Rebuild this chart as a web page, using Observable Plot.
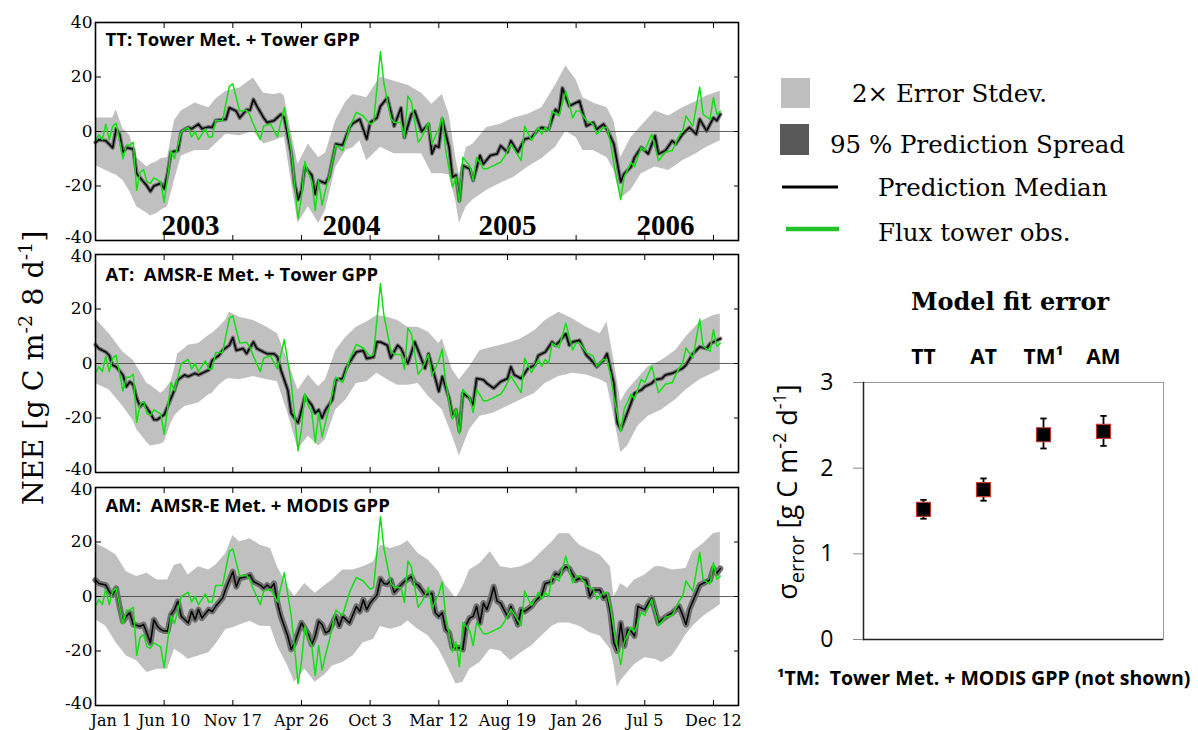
<!DOCTYPE html>
<html><head><meta charset="utf-8">
<script src="https://cdn.jsdelivr.net/npm/d3@7"></script>
<script src="https://cdn.jsdelivr.net/npm/@observablehq/plot@0.6"></script>
<style>
body{margin:0;background:#fff;}
#root{position:relative;width:1198px;height:730px;overflow:hidden;background:#fff;}
</style></head><body><div id="root"></div>
<script>
// ---------- data ----------
const tickIdx = [0,20,40,60,80,100,120,140,160,180];
const tickLabels = ["Jan 1","Jun 10","Nov 17","Apr 26","Oct 3","Mar 12","Aug 19","Jan 26","Jul 5","Dec 12"];
const yTicks = [-40,-20,0,20,40];
const yearLabels = ["2003","2004","2005","2006"];
const yearT = [27.7,74.6,120,166];
const panelTitles = ["TT: Tower Met. + Tower GPP","AT:  AMSR-E Met. + Tower GPP","AM:  AMSR-E Met. + MODIS GPP"];

// flux tower observations (8-day composite index, NEE)
const obsT = [0,1,2,3,4,5,6,8,9,10,11,12,13,14,15,16,17,19,20,22,23,24,25,27,28,29,30,32,33,34,35,37,39,40,42,44,45,46,48,49,51,53,55,57,58,59,60,61,62,63,64,65,66,67,68,70,72,74,76,78,80,81,83,84,86,87,89,90,91,92,94,95,97,98,100,101,102,103,104,105,106,107,109,110,111,113,114,116,118,119,121,124,125,127,129,130,131,132,133,135,137,139,140,141,143,145,146,148,149,150,151,153,154,156,157,159,160,162,164,166,168,170,171,172,174,176,177,179,180,181,182];
const obsV = [-3.4,-1.2,-3,2.7,-3,2,3,-10,-5,-5,-4,-21.6,-15,-14,-18.5,-19,-17,-18.5,-26,-7,-10,-5,0,1.5,-2,0,-3,1,-2,-2,4,4,16.6,17.5,7.5,7.8,6,2.7,-3,2,2.7,-2,8.7,-7,-19,-32,-24,-11,-15.5,-18,-29,-18,-27,-21.5,-16.7,-5,-7,1.5,7,5.7,2.7,3.3,29.3,17.8,5,3.3,3.3,-2.2,13,11,-4,-2.2,3.3,-4.6,1,5.3,-7,-13.7,-20.4,-16.7,-25.8,-9.5,-12.5,-18,-9.5,-13.7,-13.7,-12.5,-11.3,-9.5,-4.6,-10.7,2,-3.4,1.5,-1,1.5,0,7.5,5.7,14.8,5,7.5,7.5,4,2.7,-1,1.5,1.5,-4,-12,-25,-16.7,-11.3,-13,-5.8,-7,-1,-10.7,-7.6,-7,-1.6,0,5.7,2,16.2,6.3,4.5,12.4,6.3,7.5];

// TT prediction median
const ttT = [0,1,3,5,6,7,8,9,11,12,13,15,16,17,19,20,21,22,24,25,27,28,30,31,33,34,35,38,39,41,42,44,45,46,47,49,50,52,54,55,57,58,59,60,61,63,64,65,67,68,70,72,74,75,77,79,80,82,83,85,86,87,89,90,92,93,95,97,98,99,100,101,103,104,105,106,107,109,110,112,113,115,117,118,120,121,123,125,127,129,130,132,134,135,136,138,141,143,145,146,148,149,151,153,154,156,157,159,161,163,164,166,168,169,171,173,175,176,178,180,181,182];
const ttV = [-4,-3,-3.4,-6,1,-1,-7.6,-6,-6.4,-15.5,-17,-20,-22,-20,-19,-21,-15.5,-7.6,-7,0,1.5,1,2.7,1,1.7,1.5,4,4.5,8.7,7.5,5,8,7.8,11.8,9.3,5,3.3,4,6.3,5,-8,-19,-25,-21.6,-13,-16,-23,-18,-19,-16.7,-4.6,-5,1.5,3,4.5,-2.8,3.3,5,9.3,12.4,7.5,2,8.7,-2.2,6.3,7.5,0,2.7,-8.2,-5.2,-5.8,4.5,-5.8,-16.7,-16,-25.5,-12.5,-13.7,-18,-8.8,-11.9,-8.8,-8.2,-5.2,-7.6,-3.4,-7.6,-2.8,-2.2,0.8,1.5,0.8,8.1,6.9,16,9.3,11.2,2,3.3,0.8,2.7,0.8,-4.6,-18.5,-15.5,-13,-9.5,-5.8,-8.2,-1.6,-8.2,-7,-3.4,-4.6,-1,1.5,-1,4.5,0.2,5,4,6.3];
// TT 2x error stdev band
const ttBT = [0,5,6,8,10,12,15,16,18,19,21,23,25,29,33,35,38,42,46,49,52,54,55,57,59,62,65,67,70,73,75,77,79,83,87,91,95,98,101,103,105,106,108,110,114,118,122,126,130,134,137,140,142,145,149,151,153,156,159,163,167,171,175,178,182];
const ttBLo = [-12.5,-15.5,-16,-18,-22,-27.6,-30,-31,-30,-29,-27.6,-18,-9,-7,-7,-4.6,-1,-1.6,0,-4.6,-3.4,-2.5,-2,-18,-33.7,-27.6,-33.7,-29,-13,-7,-6,-3.4,-10.7,-5.8,-8.2,-8.2,-8.2,-15.5,-15.5,-16,-25.8,-33.7,-27.6,-25,-21.6,-19,-16.7,-13,-10,-5.8,0,-2.2,-7,-7,-9.5,-14.3,-24.6,-21.6,-15.5,-13,-14.3,-10.7,-8.2,-5.8,-3.4];
const ttBHi = [5,5,8,1,-1.5,-9.5,-13,-12,-11,-10,-9.5,4,7.5,10.5,8.7,11.8,14.8,16,19.6,14,13.6,14,13,0,-12,-4.6,-9.5,-8,4,11,13.6,13,12.4,20,18.4,17,14,10,13.6,6.3,-10,-16,-6,-4.6,1.5,2.7,5,6.3,8.7,17,24,19,12.4,10.5,8.7,3.9,-9.5,-2.2,2,7.5,5.7,8.7,11,13,14.8];

// AT prediction median
const atT = [0,1,3,4,5,6,8,9,10,11,12,13,14,16,17,18,20,21,23,24,26,27,29,30,32,33,34,36,37,39,40,41,43,44,46,47,49,50,52,53,54,56,57,59,60,61,63,64,65,66,67,69,70,72,73,75,76,78,79,81,82,83,85,86,88,89,91,93,94,96,97,99,100,101,103,104,105,106,107,109,110,111,113,114,116,118,120,121,122,124,126,128,129,131,133,134,135,137,138,139,141,143,144,146,148,149,151,152,153,154,156,157,159,160,162,163,165,166,168,169,171,172,174,175,176,178,179,181,182];
const atV = [6.9,5.5,4.2,3,-0.6,-1.2,-4.2,-8.5,-6.7,-7.9,-12.7,-15.8,-14.5,-18.2,-20.6,-20.6,-18.8,-15.8,-9.7,-6,-4.2,-4.8,-3.6,-4.2,-3,-2.4,1.2,3,4.8,6.7,9.5,4.8,5.5,3.6,7.9,5.5,4.2,3.6,3.6,2.4,-2.4,-9.7,-18.2,-21.8,-17,-12.1,-15.2,-18.2,-17,-20,-17,-13.3,-6,-5.5,-1.8,2.4,4.2,4.8,1.8,2.4,7.9,7.9,6.7,2,6.7,5.5,0,7.9,4.8,-1.8,3.6,-5.5,-10.3,-4.8,-12.7,-19.4,-17,-24.8,-10.9,-12.7,-15.2,-5.5,-6,-7.3,-9.1,-6.7,-5.5,-1.2,-4.2,-5.5,-1.8,-0.6,3,4.2,7.9,6.7,7.9,10.9,6.7,7.9,8.5,3,1.8,-1.2,1.2,3.6,-7.3,-21.8,-24.2,-21.2,-14.5,-10.9,-9.7,-8.5,-7.3,-6,-5.5,-4.2,-3.6,-3,-1.8,-0.6,3.6,4.8,6.1,5.5,7.3,8.5,9.1];
const atBT = [0,4,8,11,12,15,16,19,20,22,23,24,26,27,30,33,34,36,38,39,42,46,50,53,56,59,62,65,67,70,73,76,79,82,85,88,91,94,97,100,101,104,106,109,112,116,120,124,128,131,135,139,143,147,149,151,153,155,158,161,165,169,172,176,180,182];
const atBLo = [-7.3,-9.7,-15.8,-21,-24.2,-29,-30.3,-29.5,-29,-22,-19.4,-18,-15.8,-15.5,-14.5,-11.5,-10.9,-8,-6,-5.5,-6,-4.8,-6,-6.7,-18.2,-31.5,-26.7,-30.3,-27.9,-17,-13.3,-7.3,-6.7,-3.6,-6,-8,-8,-7.3,-12.1,-15.8,-17,-26.7,-33.9,-24.2,-19.4,-18.2,-15.8,-13.3,-10.9,-7.3,-4.8,-3.6,-4.2,-6,-7.3,-19.4,-32.7,-30.3,-23,-19.4,-17,-13.3,-9.7,-6,-3.6,-2.4];
const atBHi = [16.4,10.9,4.2,1.2,-1,-7.3,-8,-10.9,-10,-6.7,-2,3.6,5.5,6.7,7.3,10.3,11,13.3,16,18.8,17,15.8,13.3,10.9,1.2,-9.7,-4.2,-8.5,-6,4.8,9.7,13.3,15.2,17.6,17,15.8,13.3,13.3,11.5,7.3,9.1,-2.4,-6,-1.2,4.8,6.1,7.3,9.1,12.1,15.8,18.8,16.4,13.3,10.9,15.2,1.2,-13.9,-9.7,-5.5,-1.2,1.2,4.8,9.7,15.2,17.6,18.2];

// AM prediction median
const amT = [0,1,3,4,5,6,7,8,9,10,11,13,14,16,17,18,19,20,21,22,23,24,25,27,28,29,30,31,33,34,35,37,38,40,41,42,44,45,46,48,49,50,51,52,53,54,56,57,58,59,60,62,63,64,65,66,67,68,70,71,72,73,74,76,77,78,79,80,82,83,84,85,86,87,89,90,92,93,94,96,98,99,100,101,102,103,104,106,107,108,109,110,111,112,113,114,115,116,117,118,120,121,123,124,125,127,128,130,131,133,134,135,136,137,138,140,141,143,144,145,147,148,149,150,151,152,153,154,155,156,157,158,160,161,162,164,165,167,168,170,171,172,173,175,176,178,179,180,181,182];
const amV = [6,4.8,4.2,1.8,0.6,3,-3.6,-9.1,-7.3,-6,-10.3,-10.9,-10.3,-17,-8.5,-10.9,-12.1,-12.7,-12.7,-6.7,-4.8,-1.8,-7.3,-9.7,-5.5,-8.5,-4.8,-7.9,-4.8,-5.5,-3.6,-0.6,3,9.1,3.6,6.7,7.3,7.9,5.5,4.2,3,4.2,3,4.8,-2.4,-7.3,-14.5,-19.4,-17,-13.3,-9.7,-13.9,-17.6,-14.5,-9.1,-10.3,-13.3,-12.7,-7.3,-10.9,-7.3,-8.5,-9.7,-3.6,-5.5,-1.2,-4.8,-2.4,0.6,6.5,4.8,4.5,6,1.5,4.2,5.5,7.3,4.8,4.2,0.6,1.2,-6,-7.3,-6,-12.1,-13.3,-18.8,-18.8,-19.4,-10.3,-7.9,-7.3,-3.6,-9.7,-2.4,-4.8,-1.2,3.6,-1.8,-2.4,-7.3,-3.6,-10.3,-4.8,-5.5,-3.6,-1.8,0.6,4.8,5.5,8.5,7.9,9.7,10.9,10.3,6,6.7,6,0,2.4,2.4,-0.6,0.6,-6,-17,-20,-9.7,-18.2,-12.1,-12.7,-14.5,-3.6,-4.8,-2.4,-0.6,-9.7,-8.5,-6.7,-6,-3.6,-6.7,-10.3,-4.8,1.2,4.2,5.5,6,10.3,8.5,10.3];
const amBT = [0,3,6,9,12,15,18,21,23,25,27,30,33,35,38,40,42,45,48,51,53,56,58,61,64,67,69,72,75,78,81,83,86,89,91,94,97,100,102,105,107,109,112,115,118,121,124,127,130,133,135,138,141,144,147,150,151,152,153,155,157,160,163,165,168,170,172,174,177,180,182];
const amBLo = [-8.5,-10.9,-17,-21.8,-23.6,-27.9,-26.7,-26.7,-19.4,-21,-23,-21.8,-20.6,-17.6,-12.1,-11.5,-10.5,-9.1,-10.9,-11,-18.2,-25.5,-31.5,-26.7,-31.5,-28.5,-25.5,-24.2,-21.8,-17,-15.8,-11,-12,-11,-9,-12.1,-14.5,-19.4,-24.2,-32.1,-31.5,-26.7,-24.2,-19.4,-20,-23.6,-20.6,-18.2,-14.5,-10.9,-9.7,-9.7,-10.9,-13.3,-14.5,-19.4,-25,-33.3,-31,-28,-25,-22.5,-23,-24.2,-21.8,-18.2,-14,-10.9,-7.3,-4.8,-3];
const amBHi = [19.4,17.6,15.2,9.1,7.3,8.5,6.1,6.1,11.5,12.1,7.9,10.9,9.7,11.5,15.8,22.4,20,21.2,18.8,17.6,10.9,3.6,0,4.8,1.2,4.2,6.1,9.7,9.7,10.9,12.7,18.8,17.6,18.8,20.5,15.8,13.3,9.1,4.2,-0.6,3.6,9.7,12.1,16.4,10.9,10.3,10.9,12.7,16.4,20,23,23,18.8,17,15.2,10.9,0,2,4.8,3,6.1,7.9,10.9,10.9,9.7,10,10.3,16.4,19.4,23,23.6];

// Model fit error
const models = ["TT","AT","TM","AM"];
const modelLabels = ["TT","AT","TM\u00B9","AM"];
const sigma = [1.52,1.75,2.39,2.43];
const sigmaLo = [1.41,1.62,2.23,2.26];
const sigmaHi = [1.63,1.88,2.58,2.61];
const sigmaTicks = [0,1,2,3];

const legendLabels = ["2\u00D7 Error Stdev.","95 % Prediction Spread","Prediction Median","Flux tower obs."];

// ---------- drawing ----------
const root = document.getElementById("root");
function place(el, left, top){ el.style.position="absolute"; el.style.left=left+"px"; el.style.top=top+"px"; root.appendChild(el); }

const obsData = obsT.map((t,i)=>({t, v:obsV[i]}));
const xfmt = new Map(tickIdx.map((t,i)=>[t, tickLabels[i]]));
const innerTicks = yTicks.filter(d => d !== 40 && d !== -40);

function makePanel(cfg){
  const med = cfg.medT.map((t,i)=>({t, v:cfg.medV[i]}));
  const band = cfg.bandT.map((t,i)=>({t, lo:cfg.bandLo[i], hi:cfg.bandHi[i]}));
  return Plot.plot({
    width:760, height:cfg.height, marginLeft:95, marginRight:22, marginTop:cfg.mt, marginBottom:cfg.mb,
    style:{background:"transparent", overflow:"visible", fontFamily:"'DejaVu Serif', serif", fontSize:"17px", color:"#000"},
    x:{domain:[0,187.3]},
    y:{domain:[-40,40]},
    marks:[
      Plot.areaY(band, {x:"t", y1:"lo", y2:"hi", fill:"#c0c0c0"}),
      Plot.ruleY([0], {stroke:"#3a3a3a", strokeWidth:0.8}),
      Plot.lineY(med, {x:"t", y:"v", stroke:"#707070", strokeWidth:cfg.spread, strokeLinejoin:"round"}),
      Plot.lineY(med, {x:"t", y:"v", stroke:"#000", strokeWidth:1.5}),
      Plot.lineY(obsData, {x:"t", y:"v", stroke:"#11e011", strokeWidth:1.5}),
      Plot.axisY({anchor:"left", ticks:innerTicks, tickSize:0, tickPadding:3, tickFormat:d=>String(d), label:null}),
      Plot.axisY({anchor:"left", ticks:[40], tickSize:0, tickPadding:3, dy:cfg.topDy, tickFormat:d=>String(d), label:null}),
      Plot.axisY({anchor:"left", ticks:[-40], tickSize:0, tickPadding:3, dy:cfg.botDy, tickFormat:d=>String(d), label:null}),
      Plot.axisY({anchor:"left", ticks:yTicks, tickSize:6, dx:6, fill:"none", label:null}),
      Plot.axisY({anchor:"right", ticks:yTicks, tickSize:5, dx:-5, fill:"none", label:null}),
      Plot.axisX({anchor:"top", ticks:tickIdx, tickSize:5, dy:5, fill:"none", label:null}),
      Plot.axisX({anchor:"bottom", ticks:tickIdx, tickSize:5, dy:-5, fill:"none", label:null}),
      cfg.showX ? Plot.axisX({anchor:"bottom", ticks:tickIdx.slice(1), tickSize:0, tickPadding:9, tickFormat:d=>xfmt.get(d), fontSize:16, label:null}) : null,
      cfg.showX ? Plot.axisX({anchor:"bottom", ticks:tickIdx.slice(0,1), tickSize:0, tickPadding:9, textAnchor:"start", dx:-5, tickFormat:d=>xfmt.get(d), fontSize:16, label:null}) : null,
      Plot.frame({stroke:"#000", strokeWidth:1.6}),
      Plot.text([cfg.title], {frameAnchor:"top-left", textAnchor:"start", lineAnchor:"top", dx:10, dy:cfg.tdy, fontFamily:"'Open Sans', sans-serif", fontWeight:"bold", fontSize:18.5}),
      cfg.years ? Plot.text(yearLabels, {x:(d,i)=>yearT[i], text:d=>d, frameAnchor:"bottom", lineAnchor:"bottom", dy:-6, fontFamily:"'Liberation Serif', serif", fontWeight:"bold", fontSize:29}) : null
    ]
  });
}

place(makePanel({title:panelTitles[0], medT:ttT, medV:ttV, bandT:ttBT, bandLo:ttBLo, bandHi:ttBHi, spread:4, height:246, mt:22, mb:6, tdy:10, years:true, topDy:0, botDy:-3}), 0, 0);
place(makePanel({title:panelTitles[1], medT:atT, medV:atV, bandT:atBT, bandLo:atBLo, bandHi:atBHi, spread:4, height:238, mt:14, mb:6, tdy:13, topDy:2, botDy:-3}), 0, 240);
place(makePanel({title:panelTitles[2], medT:amT, medV:amV, bandT:amBT, bandLo:amBLo, bandHi:amBHi, spread:6, height:264, mt:14, mb:32, tdy:11, showX:true, topDy:2, botDy:-2}), 0, 473);

// Model fit error panel
const sc = models.map((m,i)=>({m, s:sigma[i], lo:sigmaLo[i], hi:sigmaHi[i]}));
const mfmt = new Map(models.map((m,i)=>[m, modelLabels[i]]));
const capSymbol = {draw(ctx, size){ const r = Math.sqrt(size/Math.PI); ctx.moveTo(-r,0); ctx.lineTo(r,0); }};
const scatter = Plot.plot({
  width:458, height:320, marginLeft:123, marginRight:35, marginTop:52, marginBottom:11,
  style:{background:"transparent", overflow:"visible", fontFamily:"'Open Sans', sans-serif", fontSize:"22px", color:"#000"},
  x:{type:"point", domain:models, padding:1},
  y:{domain:[0,3]},
  marks:[
    Plot.frame({stroke:"#9a9a9a", strokeWidth:1}),
    Plot.ruleY([0], {stroke:"#222", strokeWidth:1.5}),
    Plot.frame({anchor:"left", stroke:"#222", strokeWidth:1.5}),
    Plot.axisY({ticks:sigmaTicks, tickSize:10, tickPadding:20, stroke:"#888", tickFormat:d=>String(d), label:null, fontSize:23}),
    Plot.axisX({anchor:"top", tickSize:0, tickPadding:19, tickFormat:d=>mfmt.get(d), fontWeight:"bold", fontSize:21, label:null}),
    Plot.ruleX(sc, {x:"m", y1:"lo", y2:"hi", stroke:"#000", strokeWidth:1.8}),
    Plot.dot(sc, {x:"m", y:"lo", symbol:capSymbol, r:3.2, stroke:"#000", strokeWidth:1.8, fill:"none"}),
    Plot.dot(sc, {x:"m", y:"hi", symbol:capSymbol, r:3.2, stroke:"#000", strokeWidth:1.8, fill:"none"}),
    Plot.dot(sc, {x:"m", y:"s", symbol:"square", r:7.9, fill:"#000", stroke:"#c0392b", strokeWidth:1.2})
  ]
});
place(scatter, 740, 330);

// overlay: axis titles, legend, title, footnote
const svg = d3.create("svg").attr("width",1198).attr("height",730)
  .style("position","absolute").style("left","0px").style("top","0px").style("pointer-events","none");

const nee = svg.append("text").attr("transform","translate(43,368) rotate(-90)").attr("text-anchor","middle")
  .attr("font-family","DejaVu Serif").attr("font-size",28.5).attr("fill","#000");
nee.append("tspan").text("NEE [g C m");
nee.append("tspan").attr("dy",-11).attr("font-size",19).text("-2");
nee.append("tspan").attr("dy",11).text(" 8 d");
nee.append("tspan").attr("dy",-11).attr("font-size",19).text("-1");
nee.append("tspan").attr("dy",11).text("]");

const sg = svg.append("text").attr("transform","translate(797,492) rotate(-90)").attr("text-anchor","middle")
  .attr("font-family","Open Sans").attr("font-size",27).attr("fill","#000");
sg.append("tspan").text("\u03C3");
sg.append("tspan").attr("dy",7).attr("font-size",20).text("error");
sg.append("tspan").attr("dy",-7).text(" [g C m");
sg.append("tspan").attr("dy",-11).attr("font-size",18).text("-2");
sg.append("tspan").attr("dy",11).text(" d");
sg.append("tspan").attr("dy",-11).attr("font-size",18).text("-1");
sg.append("tspan").attr("dy",11).text("]");

const lg = svg.append("g").attr("font-family","DejaVu Serif").attr("font-size",24.5).attr("fill","#000");
lg.append("rect").attr("x",781).attr("y",78).attr("width",29).attr("height",30).attr("fill","#bfbfbf");
lg.append("text").attr("x",852).attr("y",102).text(legendLabels[0]);
lg.append("rect").attr("x",780).attr("y",124).attr("width",29).attr("height",31).attr("fill","#595959");
lg.append("text").attr("x",830).attr("y",153).text(legendLabels[1]);
lg.append("line").attr("x1",782).attr("x2",838).attr("y1",187).attr("y2",187).attr("stroke","#000").attr("stroke-width",3);
lg.append("text").attr("x",878).attr("y",196).text(legendLabels[2]);
lg.append("line").attr("x1",786).attr("x2",839).attr("y1",229).attr("y2",229).attr("stroke","#22c42a").attr("stroke-width",4.5);
lg.append("text").attr("x",878).attr("y",241).text(legendLabels[3]);

svg.append("text").attr("x",1010).attr("y",310).attr("text-anchor","middle").attr("font-family","DejaVu Serif")
  .attr("font-weight","bold").attr("font-size",24).text("Model fit error");
svg.append("text").attr("x",777).attr("y",685).attr("font-family","Open Sans").attr("font-weight","bold")
  .attr("font-size",19.5).style("white-space","pre").text("\u00B9TM:  Tower Met. + MODIS GPP (not shown)");

root.appendChild(svg.node());
</script></body></html>
